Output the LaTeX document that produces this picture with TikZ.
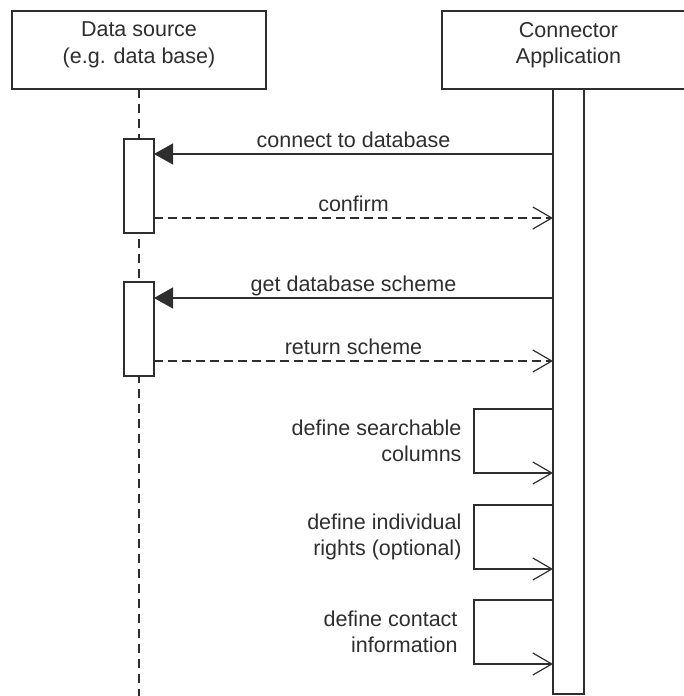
\documentclass[tikz,border=0pt]{standalone}
\usepackage{fontspec}
\setmainfont{Liberation Sans}
\usetikzlibrary{arrows.meta}
\definecolor{ink}{HTML}{2E2E2E}
\begin{document}
\begin{tikzpicture}[x=1pt,y=-1pt,
  every node/.style={font=\fontsize{21.5}{26.5}\selectfont, text=ink},
  frame/.style={draw=ink, line width=1.3pt, fill=white, inner sep=0pt, outer sep=0pt},
  lifeline/.style={draw=ink, line width=1.2pt, dash pattern=on 9pt off 6pt},
  call/.style={draw=ink, line width=1.2pt, -{Triangle[length=19pt,width=21pt]}},
  reply/.style={draw=ink, line width=1.2pt, dash pattern=on 9pt off 5pt,
    -{Straight Barb[length=19pt,width=22pt,line width=1.2pt,line join=miter]}},
  selfmsg/.style={draw=ink, line width=1.2pt,
    -{Straight Barb[length=19pt,width=22pt,line width=1.2pt,line join=miter]}},
  msglabel/.style={anchor=base, yshift=7pt},
  notelabel/.style={anchor=east, align=right},
]
% page frame
\useasboundingbox (0,0) rectangle (684,696);
\clip (0,0) rectangle (684,696);

% lifeline heads
\node[frame, minimum width=254pt, minimum height=78pt] (src) at (139,50) {};
\node[align=center] (srcText) at (139,45) {Data source\\(e.g. data base)};
\node[frame, minimum width=253pt, minimum height=78pt] (app) at (568.5,50) {};
\node[align=center] (appText) at (568.5,45) {Connector\\Application};

% lifelines
\coordinate (srcEnd) at (139,696);
\draw[lifeline] (src.south) -- (srcEnd);

% activations
\node[frame, minimum width=30pt, minimum height=94pt] (actA) at (139,186) {};
\node[frame, minimum width=30pt, minimum height=94pt] (actB) at (139,329) {};
\node[frame, minimum width=31pt, minimum height=605pt, anchor=north] (bar) at (app.south) {};

% calls and replies
\draw[call] (bar.west |- 0,154) -- node[msglabel] (m1) {connect to database} (actA.east |- 0,154);
\draw[reply] (actA.east |- 0,218) -- node[msglabel] (m2) {confirm} (bar.west |- 0,218);
\draw[call] (bar.west |- 0,298) -- node[msglabel] (m3) {get database scheme} (actB.east |- 0,298);
\draw[reply] (actB.east |- 0,361) -- node[msglabel] (m4) {return scheme} (bar.west |- 0,361);

% self messages
\draw[selfmsg] (bar.west |- 0,409) -- (474,409) -- (474,473) -- (bar.west |- 0,473);
\node[notelabel] (s1) at (465,441) {define searchable\\columns};
\draw[selfmsg] (bar.west |- 0,505) -- (474,505) -- (474,569) -- (bar.west |- 0,569);
\node[notelabel] (s2) at (465,537) {define individual\\rights (optional)};
\draw[selfmsg] (bar.west |- 0,600) -- (474,600) -- (474,664) -- (bar.west |- 0,664);
\node[notelabel] (s3) at (461,632) {define contact\\information};
\end{tikzpicture}
\end{document}
